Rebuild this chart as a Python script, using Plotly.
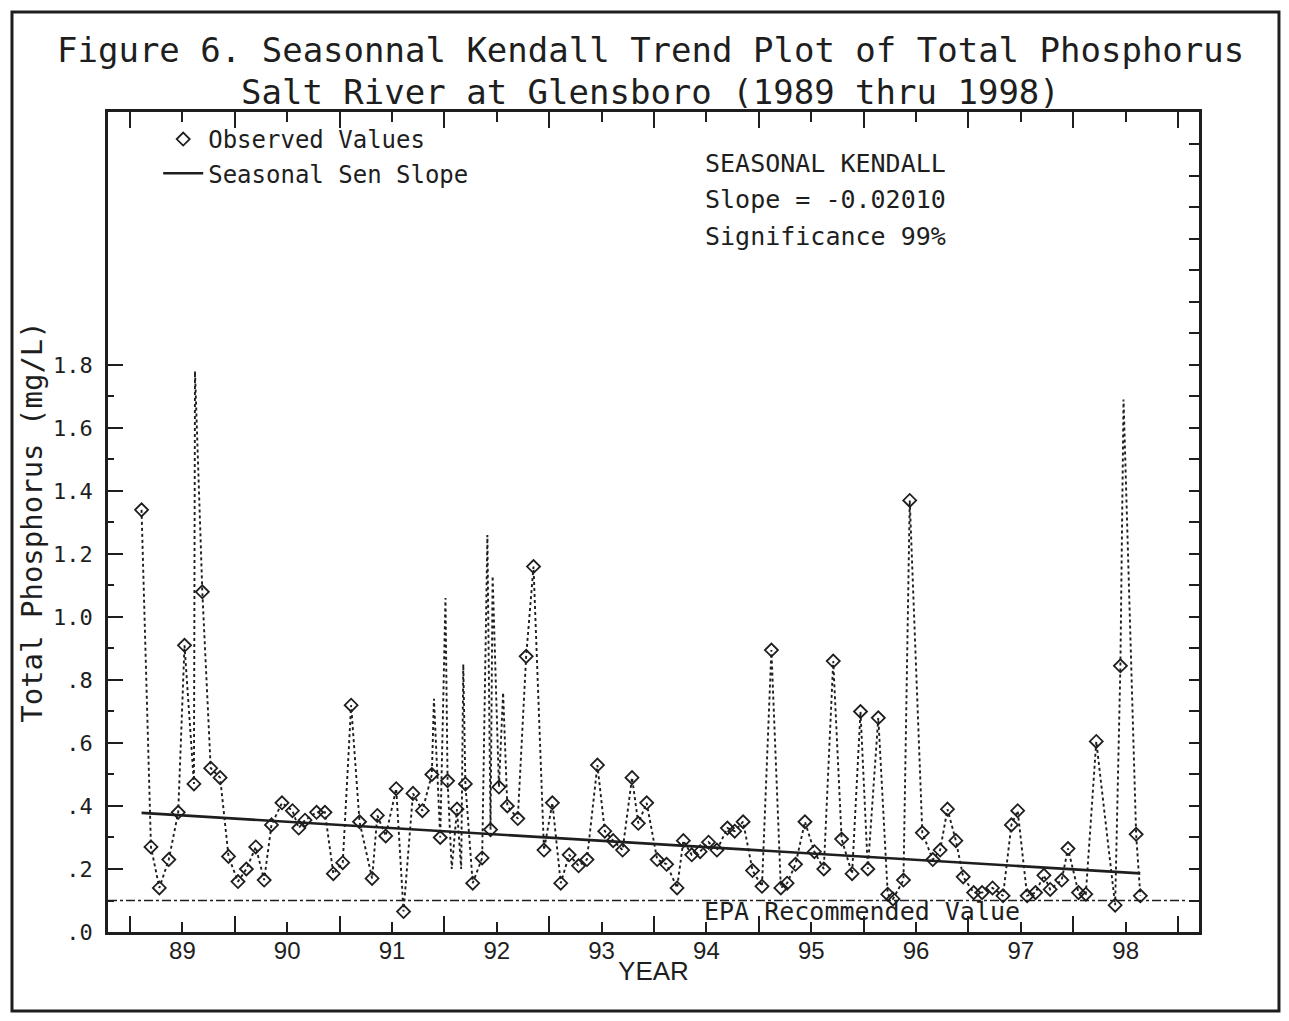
import numpy as np
import plotly.graph_objects as go

# ---------------- data ----------------
obs_years = [88.61, 88.70, 88.78, 88.87, 88.96, 89.02, 89.11, 89.19, 89.27, 89.36,
             89.44, 89.53, 89.61, 89.70, 89.78, 89.85, 89.95, 90.05, 90.11, 90.17,
             90.28, 90.36, 90.44, 90.53, 90.61, 90.69, 90.81, 90.86, 90.94, 91.04,
             91.11, 91.20, 91.29, 91.38, 91.46, 91.53, 91.62, 91.70, 91.77, 91.86,
             91.94, 92.02, 92.10, 92.20, 92.28, 92.35, 92.45, 92.53, 92.61, 92.69,
             92.78, 92.86, 92.96, 93.03, 93.11, 93.20, 93.29, 93.35, 93.43, 93.53,
             93.62, 93.72, 93.78, 93.86, 93.94, 94.02, 94.10, 94.20, 94.27, 94.35,
             94.44, 94.53, 94.62, 94.71, 94.77, 94.85, 94.94, 95.03, 95.12, 95.21,
             95.29, 95.39, 95.47, 95.54, 95.64, 95.73, 95.78, 95.88, 95.94, 96.06,
             96.16, 96.23, 96.30, 96.38, 96.45, 96.55, 96.63, 96.73, 96.83, 96.91,
             96.97, 97.06, 97.14, 97.22, 97.28, 97.39, 97.45, 97.55, 97.62, 97.72,
             97.90, 97.95, 98.10, 98.14]
obs_values = [1.34, 0.27, 0.14, 0.23, 0.38, 0.91, 0.47, 1.08, 0.52, 0.49,
              0.24, 0.16, 0.20, 0.27, 0.165, 0.34, 0.41, 0.385, 0.33, 0.355,
              0.38, 0.38, 0.185, 0.22, 0.72, 0.35, 0.17, 0.37, 0.305, 0.455,
              0.065, 0.44, 0.385, 0.50, 0.30, 0.48, 0.39, 0.47, 0.155, 0.235,
              0.325, 0.46, 0.40, 0.36, 0.875, 1.16, 0.26, 0.41, 0.155, 0.245,
              0.21, 0.23, 0.53, 0.32, 0.29, 0.26, 0.49, 0.345, 0.41, 0.23,
              0.215, 0.14, 0.29, 0.245, 0.255, 0.285, 0.26, 0.33, 0.32, 0.35,
              0.195, 0.145, 0.895, 0.14, 0.155, 0.215, 0.35, 0.255, 0.20, 0.86,
              0.295, 0.185, 0.70, 0.20, 0.68, 0.12, 0.105, 0.165, 1.37, 0.315,
              0.23, 0.26, 0.39, 0.29, 0.175, 0.125, 0.125, 0.14, 0.115, 0.34,
              0.385, 0.115, 0.125, 0.18, 0.135, 0.165, 0.265, 0.125, 0.12, 0.605,
              0.085, 0.845, 0.31, 0.115]

# excursions of the dotted connecting trace that carry no plotted symbol
spike_years = [89.12, 91.40, 91.51, 91.57, 91.66, 91.68, 91.91, 91.96, 92.06, 97.98]
spike_values = [1.78, 0.74, 1.06, 0.20, 0.20, 0.85, 1.26, 1.13, 0.76, 1.69]

trend_years = [88.61, 98.14]
trend_values = [0.378, 0.186]

epa_value = 0.10

x_tick_vals = [89, 90, 91, 92, 93, 94, 95, 96, 97, 98]
x_tick_labels = ["89", "90", "91", "92", "93", "94", "95", "96", "97", "98"]
x_half_ticks = [88.5, 89.5, 90.5, 91.5, 92.5, 93.5, 94.5, 95.5, 96.5, 97.5, 98.5]
y_tick_vals = [0.0, 0.2, 0.4, 0.6, 0.8, 1.0, 1.2, 1.4, 1.6, 1.8]
y_tick_labels = [".0", ".2", ".4", ".6", ".8", "1.0", "1.2", "1.4", "1.6", "1.8"]

stats_lines = ["SEASONAL KENDALL", "Slope = -0.02010", "Significance 99%"]
title_lines = ["Figure 6. Seasonnal Kendall Trend Plot of Total Phosphorus",
               "Salt River at Glensboro (1989 thru 1998)"]

# ---------------- figure ----------------
INK = "#1e1e1e"
MONO = "DejaVu Sans Mono"
SANS = "Liberation Sans"

path = sorted(zip(obs_years + spike_years, obs_values + spike_values))
path_x = [p[0] for p in path]
path_y = [p[1] for p in path]

XR = [88.29, 98.70]
YR = [0.0, 2.603]

fig = go.Figure()
fig.add_trace(go.Scatter(x=path_x, y=path_y, mode="lines",
                         line=dict(color=INK, width=1.9, dash="dot"),
                         showlegend=False, hoverinfo="skip"))
fig.add_trace(go.Scatter(x=obs_years, y=obs_values, mode="markers",
                         name="Observed Values",
                         marker=dict(symbol="diamond-open", size=10, color=INK,
                                     line=dict(width=1.8, color=INK))))
fig.add_trace(go.Scatter(x=trend_years, y=trend_values, mode="lines",
                         name="Seasonal Sen Slope",
                         line=dict(color=INK, width=2.6)))
# right-hand tick column
fig.add_trace(go.Scatter(x=[XR[0]], y=[YR[0]], yaxis="y2", mode="markers",
                         marker=dict(opacity=0), showlegend=False, hoverinfo="skip"))

fig.add_shape(type="line", xref="paper", x0=0, x1=0.99, yref="y",
              y0=epa_value, y1=epa_value,
              line=dict(color=INK, width=1.6, dash="dashdot"))

fig.add_annotation(x=95.48, y=epa_value, xref="x", yref="y", yanchor="top",
                   yshift=6, text="EPA Recommended Value", showarrow=False,
                   font=dict(family=MONO, size=25, color=INK))

for i, t in enumerate(stats_lines):
    fig.add_annotation(x=0.5454, y=0.9378 - i * 0.0451, xref="paper", yref="paper",
                       xanchor="left", yanchor="middle", text=t, showarrow=False,
                       font=dict(family=MONO, size=25, color=INK))

fig.add_annotation(x=0.4968, y=1.0756, xref="paper", yref="paper",
                   xanchor="center", yanchor="middle", text=title_lines[0],
                   showarrow=False, font=dict(family=MONO, size=34, color=INK))
fig.add_annotation(x=0.4968, y=1.0244, xref="paper", yref="paper",
                   xanchor="center", yanchor="middle", text=title_lines[1],
                   showarrow=False, font=dict(family=MONO, size=34, color=INK))

# outer frame of the figure
fig.add_shape(type="rect", xref="paper", yref="paper",
              x0=-0.088, x1=1.0733, y0=-0.0963, y1=1.122,
              line=dict(color=INK, width=3))

fig.update_layout(
    width=1273, height=1005,
    margin=dict(l=100, r=82, t=104, b=81),
    paper_bgcolor="white", plot_bgcolor="white",
    showlegend=True,
    legend=dict(x=0.046, y=0.994, xanchor="left", yanchor="top",
                bgcolor="rgba(0,0,0,0)", font=dict(family=MONO, size=24, color=INK),
                tracegroupgap=0, itemwidth=40),
    xaxis=dict(range=XR, tickmode="array", tickvals=x_tick_vals, ticktext=x_tick_labels,
               ticks="inside", ticklen=10, tickwidth=2, tickcolor=INK,
               showline=True, linewidth=2.5, linecolor=INK, mirror="ticks",
               showgrid=False, zeroline=False, ticklabelstandoff=-5,
               tickfont=dict(family=SANS, size=24, color=INK),
               minor=dict(tickmode="array", tickvals=x_half_ticks, ticks="inside",
                          ticklen=16, tickwidth=2, tickcolor=INK, showgrid=False),
               title=dict(text="YEAR", font=dict(family=SANS, size=26, color=INK),
                          standoff=0)),
    yaxis=dict(range=YR, tickmode="array", tickvals=y_tick_vals, ticktext=y_tick_labels,
               ticks="inside", ticklen=15, tickwidth=2, tickcolor=INK,
               showline=True, linewidth=2.5, linecolor=INK, mirror=True,
               showgrid=False, zeroline=False, ticklabelstandoff=8,
               tickfont=dict(family=MONO, size=22, color=INK),
               minor=dict(tickmode="array",
                          tickvals=[0.1, 0.3, 0.5, 0.7, 0.9, 1.1, 1.3, 1.5, 1.7],
                          ticks="inside", ticklen=6, tickwidth=2, tickcolor=INK,
                          showgrid=False),
               title=dict(text="Total Phosphorus (mg/L)",
                          font=dict(family=MONO, size=29, color=INK), standoff=2)),
    yaxis2=dict(range=YR, overlaying="y", side="right", anchor="x",
                tickmode="array", tickvals=list(np.round(np.arange(0, 2.61, 0.1), 2)),
                ticks="inside", ticklen=10, tickwidth=2, tickcolor=INK,
                showticklabels=False, showline=False, showgrid=False, zeroline=False),
)

fig.write_html("out.html")
